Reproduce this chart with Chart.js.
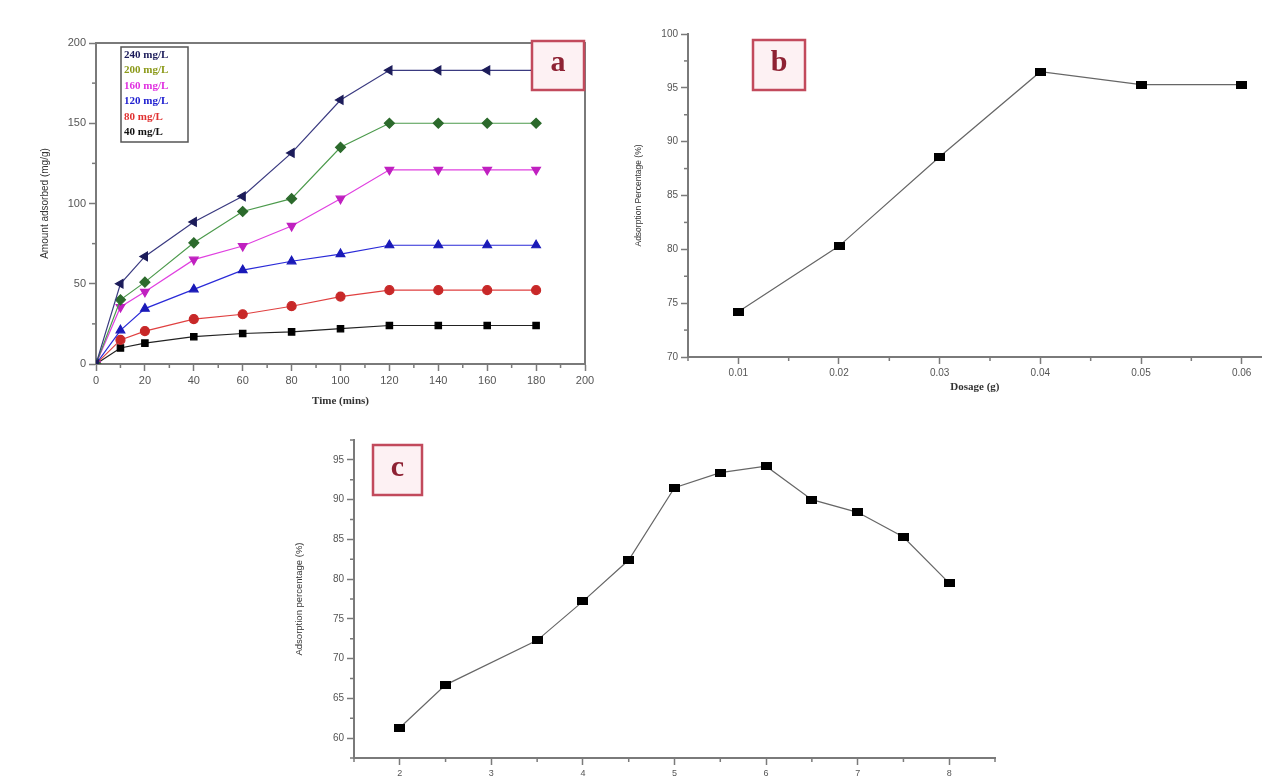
<!DOCTYPE html>
<html>
<head>
<meta charset="utf-8">
<script src="https://cdn.jsdelivr.net/npm/chart.js@4.4.0/dist/chart.umd.min.js"></script>
<style>
html, body { margin: 0; padding: 0; background: #fff; }
body { width: 1268px; height: 778px; position: relative; overflow: hidden; }
canvas { position: absolute; }
</style>
</head>
<body>
<canvas id="chartA" width="600" height="420" style="left:0;top:0"></canvas>
<canvas id="chartB" width="668" height="420" style="left:600px;top:0"></canvas>
<canvas id="chartC" width="760" height="358" style="left:250px;top:420px"></canvas>
<script>
// panel a: adsorbed amount vs time
const timeMins = [0, 10, 20, 40, 60, 80, 100, 120, 140, 160, 180];
const conc240 = [0, 50, 67, 88.5, 104.5, 131.5, 164.5, 183, 183, 183, 183];
const conc200 = [0, 40, 51, 75.5, 95, 103, 135, 150, 150, 150, 150];
const conc160 = [0, 35.5, 45, 65, 73.5, 86, 103, 121, 121, 121, 121];
const conc120 = [0, 21, 34.5, 46.5, 58.5, 64, 68.5, 74, 74, 74, 74];
const conc80 = [0, 15, 20.5, 28, 31, 36, 42, 46, 46, 46, 46];
const conc40 = [0, 10, 13, 17, 19, 20, 22, 24, 24, 24, 24];
const seriesLabels = ['240 mg/L', '200 mg/L', '160 mg/L', '120 mg/L', '80 mg/L', '40 mg/L'];
const timeTicks = [0, 20, 40, 60, 80, 100, 120, 140, 160, 180, 200];
const amountTicks = [0, 50, 100, 150, 200];

// panel b: adsorption vs dosage
const dosage = [0.01, 0.02, 0.03, 0.04, 0.05, 0.06];
const adsorptionB = [74.2, 80.3, 88.6, 96.5, 95.3, 95.3];
const dosageTicks = [0.01, 0.02, 0.03, 0.04, 0.05, 0.06];
const percentTicksB = [70, 75, 80, 85, 90, 95, 100];

// panel c: adsorption vs pH
const phValues = [2, 2.5, 3.5, 4, 4.5, 5, 5.5, 6, 6.5, 7, 7.5, 8];
const adsorptionC = [61.3, 66.7, 72.3, 77.2, 82.4, 91.5, 93.4, 94.2, 90.0, 88.4, 85.3, 79.5];
const phTicks = [2, 3, 4, 5, 6, 7, 8];
const percentTicksC = [60, 65, 70, 75, 80, 85, 90, 95];

const axisColor = '#7a7a7a';
const tickColor = '#555';
const sans = "'Liberation Sans', Arial, sans-serif";
const serif = "'Liberation Serif', 'Times New Roman', serif";

const toPoints = (xs, ys) => xs.map((x, i) => ({ x: x, y: ys[i] }));

// wide black block used as marker in b and c
const blockMarker = document.createElement('canvas');
blockMarker.width = 11;
blockMarker.height = 8;
blockMarker.getContext('2d').fillRect(0, 0, 11, 8);

// short minor ticks between the labelled ones
const minorTicks = {
    id: 'minorTicks',
    afterDraw(chart, args, opts) {
        const ctx = chart.ctx;
        const area = chart.chartArea;
        ctx.save();
        ctx.strokeStyle = axisColor;
        ctx.lineWidth = 1.5;
        ['x', 'y'].forEach(id => {
            const step = opts[id];
            if (!step) return;
            const s = chart.scales[id];
            const majors = s.ticks.map(t => t.value);
            for (let i = Math.ceil(s.min / step - 1e-9); i * step <= s.max + 1e-9; i++) {
                const v = i * step;
                if (majors.some(m => Math.abs(m - v) < step / 100)) continue;
                const p = s.getPixelForValue(v);
                ctx.beginPath();
                if (id === 'x') {
                    ctx.moveTo(p, area.bottom);
                    ctx.lineTo(p, area.bottom + 4);
                } else {
                    ctx.moveTo(area.left, p);
                    ctx.lineTo(area.left - 4, p);
                }
                ctx.stroke();
            }
        });
        ctx.restore();
    }
};

const frameBox = {
    id: 'frameBox',
    afterDraw(chart, args, opts) {
        if (!opts.show) return;
        const ctx = chart.ctx;
        const a = chart.chartArea;
        ctx.save();
        ctx.strokeStyle = axisColor;
        ctx.lineWidth = 2;
        ctx.beginPath();
        ctx.moveTo(a.left, a.top);
        ctx.lineTo(a.right, a.top);
        ctx.lineTo(a.right, a.bottom);
        ctx.stroke();
        ctx.restore();
    }
};

const panelTag = {
    id: 'panelTag',
    afterDraw(chart, args, opts) {
        if (!opts.text) return;
        const ctx = chart.ctx;
        ctx.save();
        ctx.fillStyle = '#fdf1f3';
        ctx.fillRect(opts.x, opts.y, opts.w, opts.h);
        ctx.strokeStyle = '#c24a5c';
        ctx.lineWidth = 2.5;
        ctx.strokeRect(opts.x, opts.y, opts.w, opts.h);
        ctx.fillStyle = '#8e2233';
        ctx.font = 'bold 30px ' + serif;
        ctx.textAlign = 'center';
        ctx.textBaseline = 'middle';
        ctx.fillText(opts.text, opts.x + opts.w / 2, opts.y + opts.h / 2 - 2);
        ctx.restore();
    }
};

const boxLegend = {
    id: 'boxLegend',
    afterDraw(chart, args, opts) {
        if (!opts.show) return;
        const ctx = chart.ctx;
        ctx.save();
        ctx.fillStyle = '#fff';
        ctx.fillRect(opts.x, opts.y, opts.w, opts.h);
        ctx.strokeStyle = '#555';
        ctx.lineWidth = 1.5;
        ctx.strokeRect(opts.x, opts.y, opts.w, opts.h);
        ctx.font = 'bold 11px ' + serif;
        ctx.textBaseline = 'middle';
        chart.data.datasets.forEach((ds, i) => {
            ctx.fillStyle = ds.legendColor;
            ctx.fillText(ds.label, opts.x + 3, opts.y + 8 + i * opts.rowH);
        });
        ctx.restore();
    }
};

function makeAxis(min, max, tickValues, fmt, fontSize, titleText, titleFont, fitSize, isX) {
    return {
        type: 'linear',
        min: min,
        max: max,
        afterBuildTicks: s => { s.ticks = tickValues.map(v => ({ value: v })); },
        afterFit: s => { if (isX) { s.height = fitSize; } else { s.width = fitSize; } },
        grid: { display: true, drawOnChartArea: false, drawTicks: true, tickLength: 7, color: axisColor, tickWidth: 1.5 },
        border: { display: true, color: axisColor, width: 2 },
        ticks: {
            autoSkip: false,
            maxRotation: 0,
            padding: 3,
            color: tickColor,
            font: { family: sans, size: fontSize },
            callback: v => fmt(v)
        },
        title: {
            display: !!titleText,
            text: titleText,
            color: '#333',
            padding: 4,
            font: titleFont
        }
    };
}

function lineSet(label, xs, ys, lineColor, pointColor, legendColor, style, rotation, radius) {
    return {
        label: label,
        data: toPoints(xs, ys),
        borderColor: lineColor,
        borderWidth: 1.2,
        pointBackgroundColor: pointColor,
        pointBorderColor: pointColor,
        pointStyle: style,
        rotation: rotation,
        pointRadius: radius,
        legendColor: legendColor,
        tension: 0
    };
}

const baseOpts = {
    responsive: false,
    animation: false,
    events: []
};

new Chart(document.getElementById('chartA'), {
    type: 'line',
    data: {
        datasets: [
            lineSet(seriesLabels[0], timeMins, conc240, '#3a3a80', '#1c1c5a', '#1c1c5a', 'triangle', -90, 5),
            lineSet(seriesLabels[1], timeMins, conc200, '#4c9a4c', '#2c6a2c', '#8c9a1a', 'rectRot', 0, 5),
            lineSet(seriesLabels[2], timeMins, conc160, '#e040e0', '#c020c0', '#e030e0', 'triangle', 180, 5),
            lineSet(seriesLabels[3], timeMins, conc120, '#2a2ad8', '#1a1ab8', '#2020d0', 'triangle', 0, 5),
            lineSet(seriesLabels[4], timeMins, conc80, '#e04040', '#c82828', '#e03030', 'circle', 0, 4.5),
            lineSet(seriesLabels[5], timeMins, conc40, '#222', '#000', '#111', 'rect', 0, 4.5)
        ]
    },
    options: Object.assign({}, baseOpts, {
        layout: { padding: { left: 35, top: 43, right: 15, bottom: 8 } },
        scales: {
            x: makeAxis(0, 200, timeTicks, v => String(v), 11, 'Time (mins)', { family: serif, size: 11, weight: 'bold' }, 48, true),
            y: makeAxis(0, 200, amountTicks, v => String(v), 11, 'Amount adsorbed (mg/g)', { family: sans, size: 10 }, 61, false)
        },
        plugins: {
            legend: { display: false },
            tooltip: { enabled: false },
            minorTicks: { x: 10, y: 25 },
            frameBox: { show: true },
            panelTag: { text: 'a', x: 532, y: 41, w: 52, h: 49 },
            boxLegend: { show: true, x: 121, y: 47, w: 67, h: 95, rowH: 15.5 }
        }
    }),
    plugins: [minorTicks, frameBox, panelTag, boxLegend]
});

new Chart(document.getElementById('chartB'), {
    type: 'line',
    data: {
        datasets: [
            lineSet('Adsorption', dosage, adsorptionB, '#666', '#000', '#000', blockMarker, 0, 5)
        ]
    },
    options: Object.assign({}, baseOpts, {
        layout: { padding: { left: 30, top: 34, right: 0, bottom: 22 } },
        scales: {
            x: makeAxis(0.005, 0.062, dosageTicks, v => v.toFixed(2), 10, 'Dosage (g)', { family: serif, size: 11, weight: 'bold' }, 41, true),
            y: makeAxis(70, 100, percentTicksB, v => String(v), 10, 'Adsorption Percentage (%)', { family: sans, size: 8.5 }, 58, false)
        },
        plugins: {
            legend: { display: false },
            tooltip: { enabled: false },
            minorTicks: { x: 0.005, y: 2.5 },
            panelTag: { text: 'b', x: 153, y: 40, w: 52, h: 50 }
        }
    }),
    plugins: [minorTicks, panelTag]
});

new Chart(document.getElementById('chartC'), {
    type: 'line',
    data: {
        datasets: [
            lineSet('Adsorption', phValues, adsorptionC, '#666', '#000', '#000', blockMarker, 0, 5)
        ]
    },
    options: Object.assign({}, baseOpts, {
        layout: { padding: { left: 40, top: 20, right: 15, bottom: 0 } },
        scales: {
            x: makeAxis(1.5, 8.5, phTicks, v => String(v), 9, '', { family: serif, size: 11 }, 20, true),
            y: makeAxis(57.5, 97.5, percentTicksC, v => String(v), 10, 'Adsorption percentage (%)', { family: sans, size: 9.5 }, 64, false)
        },
        plugins: {
            legend: { display: false },
            tooltip: { enabled: false },
            minorTicks: { x: 0.5, y: 2.5 },
            panelTag: { text: 'c', x: 123, y: 25, w: 49, h: 50 }
        }
    }),
    plugins: [minorTicks, panelTag]
});
</script>
</body>
</html>
